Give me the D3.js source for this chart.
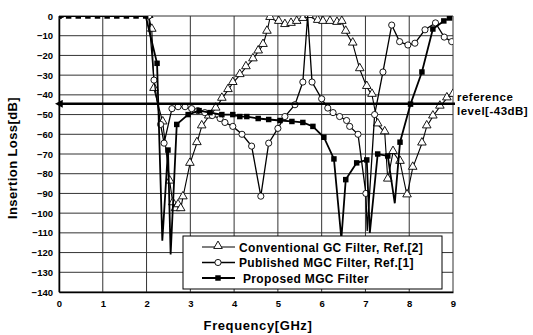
<!DOCTYPE html>
<html>
<head>
<meta charset="utf-8">
<script src="https://cdn.jsdelivr.net/npm/d3@7"></script>
<style>
    body { margin: 0; background: #fff; }
    text { font-family: "Liberation Sans", Arial, sans-serif; font-weight: bold; fill: #000; }
</style>
</head>
<body>
<div id="chart"></div>
<script>
// tick labels
const xTicks = [0, 1, 2, 3, 4, 5, 6, 7, 8, 9];
const yTicks = [0, -10, -20, -30, -40, -50, -60, -70, -80, -90, -100, -110, -120, -130, -140];

// Conventional GC Filter, Ref.[2]  (triangles)
const gcFreq = [0, 2.05, 2.12, 2.17, 2.37, 2.53, 2.6, 2.66, 2.72, 2.78, 2.83, 2.99, 3.15, 3.26, 3.42, 3.58, 3.72, 3.86, 3.97, 4.13, 4.27, 4.43, 4.55, 4.66, 4.75, 4.82,
    5.02, 5.16, 5.3, 5.43, 5.57, 5.71, 5.91, 6.03, 6.19, 6.35, 6.46, 6.55, 6.71, 6.87, 7.03, 7.15, 7.28, 7.44, 7.51, 7.63, 7.79, 7.95, 8.08, 8.29, 8.4, 8.54, 8.7, 8.86, 9.0];
const gcLoss = [0, 0, -7, -37, -54, -84, -95, -98, -96, -98, -92, -75, -64.5, -56, -51, -47, -42, -37.6, -34, -30, -26, -22, -18, -14.7, -8, -1,
    -3, -4.6, -4, -3, -1.5, 0, -2.5, -3, -3, -3.5, -3, -8, -14, -27, -36, -40, -55, -59, -83, -69, -74, -91, -77, -64.7, -56, -51, -46, -41.8, -40];

// Published MGC Filter, Ref.[1]  (circles)
const mgcFreq = [0, 2.05, 2.17, 2.32, 2.4, 2.58, 2.72, 2.88, 3.03, 3.17, 3.33, 3.5, 3.68, 3.79, 3.97, 4.18, 4.4, 4.61, 4.79, 5.0, 5.16, 5.39, 5.57, 5.78,
    6.0, 6.14, 6.26, 6.41, 6.57, 6.64, 6.83, 7.01, 7.21, 7.4, 7.6, 7.78, 7.97, 8.13, 8.36, 8.6, 8.8, 8.97];
const mgcLoss = [0, 0, -32.5, -55, -64.5, -47, -46, -46, -47, -48, -49, -50.5, -52, -54, -56, -60, -66, -91.4, -64.5, -57, -51, -45, -33.5, -33.5,
    -42, -46.7, -49, -51, -53, -56, -60, -90, -50, -28.4, -4.6, -13, -14.7, -13.8, -7, -3.5, -10.7, -13];
// unmarked notch / peak points of the published filter
const mgcNotchFreq = [5.68, 7.04];
const mgcNotchLoss = [0, -109];

// Proposed MGC Filter  (filled squares)
const newFreq = [0, 0.22, 0.44, 0.66, 0.88, 1.1, 1.32, 1.54, 1.76, 1.98, 2.24, 2.49, 2.69, 2.95, 3.2, 3.45, 3.72, 3.97, 4.13, 4.29, 4.55, 4.79, 5.05, 5.32, 5.57, 5.8,
    6.05, 6.28, 6.55, 6.8, 7.03, 7.28, 7.51, 7.79, 8.03, 8.29, 8.54, 8.79, 8.92];
const newLoss = [0, 0, 0, 0, 0, 0, 0, 0, 0, 0, -24, -68, -55, -50, -48, -49, -50, -50, -51, -51, -52, -52.5, -53, -53.5, -54, -56,
    -61.5, -72.5, -83, -74.5, -73, -70, -71, -64, -44.7, -28.4, -6.6, -2.5, -1];
// unmarked transmission zeros of the proposed filter
const newNotchFreq = [2.36, 2.55, 6.45, 7.1, 7.67];
const newNotchLoss = [-114, -121, -113, -110, -95];

const refLevel = -44.5;
const legendNames = ["Conventional GC Filter, Ref.[2]", "Published MGC Filter, Ref.[1]", "Proposed MGC Filter"];

const width = 533, height = 335;
const margin = { top: 16, right: 80, bottom: 43, left: 59 };

const svg = d3.select("#chart")
    .append("svg")
    .attr("width", width)
    .attr("height", height);

const x = d3.scaleLinear().domain([0, 9]).range([margin.left, width - margin.right]);
const y = d3.scaleLinear().domain([-140, 0]).range([height - margin.bottom, margin.top]);

svg.append("clipPath").attr("id", "plot")
    .append("rect")
    .attr("x", x(0)).attr("y", y(0))
    .attr("width", x(9) - x(0)).attr("height", y(-140) - y(0));

// grid
svg.append("g")
    .selectAll("line")
    .data(yTicks)
    .enter().append("line")
    .attr("x1", x(0)).attr("x2", x(9))
    .attr("y1", d => y(d)).attr("y2", d => y(d))
    .attr("stroke", "#333").attr("stroke-width", 1);

svg.append("g")
    .selectAll("line")
    .data(xTicks)
    .enter().append("line")
    .attr("x1", d => x(d)).attr("x2", d => x(d))
    .attr("y1", y(0)).attr("y2", y(-140))
    .attr("stroke", "#333").attr("stroke-width", 1);

// axes (labels only)
const yAxis = svg.append("g")
    .attr("transform", `translate(${x(0)},0)`)
    .call(d3.axisLeft(y).tickValues(yTicks).tickSize(0).tickPadding(6));
yAxis.select(".domain").attr("stroke", "#000").attr("stroke-width", 1.5);
yAxis.selectAll("text").style("font-size", "9.5px").style("font-family", "'Liberation Sans', Arial, sans-serif").style("font-weight", "bold");

const xAxis = svg.append("g")
    .attr("transform", `translate(0,${y(-140)})`)
    .call(d3.axisBottom(x).tickValues(xTicks).tickSize(0).tickPadding(8).tickFormat(d3.format("d")));
xAxis.select(".domain").attr("stroke", "#000").attr("stroke-width", 1.5);
xAxis.selectAll("text").style("font-size", "9.5px").style("font-family", "'Liberation Sans', Arial, sans-serif").style("font-weight", "bold");

svg.append("text")
    .attr("x", (x(0) + x(9)) / 2 + 2)
    .attr("y", 330)
    .attr("text-anchor", "middle")
    .style("font-size", "13px")
    .style("letter-spacing", "0.6px")
    .text("Frequency[GHz]");

svg.append("text")
    .attr("transform", `translate(17,${(y(0) + y(-140)) / 2 + 4}) rotate(-90)`)
    .attr("text-anchor", "middle")
    .style("font-size", "13px")
    .style("letter-spacing", "0.4px")
    .text("Insertion Loss[dB]");

// series
const line = d3.line().x(d => x(d[0])).y(d => y(d[1]));
const plot = svg.append("g").attr("clip-path", "url(#plot)");

function merge(f, l, nf, nl) {
    const pts = f.map((v, i) => [v, l[i]]);
    if (nf) nf.forEach((v, i) => pts.push([v, nl[i]]));
    return pts.sort((a, b) => a[0] - b[0]);
}

const tri = d3.symbol().type(d3.symbolTriangle).size(32);
const circ = d3.symbol().type(d3.symbolCircle).size(30);
const sq = d3.symbol().type(d3.symbolSquare).size(30);

// conventional
plot.append("path")
    .attr("d", line(merge(gcFreq, gcLoss)))
    .attr("fill", "none").attr("stroke", "#000").attr("stroke-width", 1.1);
plot.selectAll(".tri")
    .data(gcFreq.map((v, i) => [v, gcLoss[i]]))
    .enter().append("path")
    .attr("transform", d => `translate(${x(d[0])},${y(d[1]) - 1})`)
    .attr("d", tri)
    .attr("fill", "#fff").attr("stroke", "#000").attr("stroke-width", 0.9);

// published
plot.append("path")
    .attr("d", line(merge(mgcFreq, mgcLoss, mgcNotchFreq, mgcNotchLoss)))
    .attr("fill", "none").attr("stroke", "#000").attr("stroke-width", 1.3);
plot.selectAll(".circ")
    .data(mgcFreq.map((v, i) => [v, mgcLoss[i]]))
    .enter().append("path")
    .attr("transform", d => `translate(${x(d[0])},${y(d[1])})`)
    .attr("d", circ)
    .attr("fill", "#fff").attr("stroke", "#000").attr("stroke-width", 0.9);

// proposed
plot.append("path")
    .attr("d", line(merge(newFreq, newLoss, newNotchFreq, newNotchLoss)))
    .attr("fill", "none").attr("stroke", "#000").attr("stroke-width", 1.8);
plot.selectAll(".sq")
    .data(newFreq.map((v, i) => [v, newLoss[i]]))
    .enter().append("path")
    .attr("transform", d => `translate(${x(d[0])},${y(d[1])})`)
    .attr("d", sq)
    .attr("fill", "#000");

// reference level
svg.append("defs").append("marker")
    .attr("id", "arrow")
    .attr("viewBox", "0 0 10 10")
    .attr("refX", 1).attr("refY", 5)
    .attr("markerWidth", 3).attr("markerHeight", 3)
    .attr("orient", "auto-start-reverse")
    .append("path").attr("d", "M0,0L10,5L0,10z").attr("fill", "#000");

svg.append("line")
    .attr("x1", x(0) + 3).attr("x2", x(9) + 2)
    .attr("y1", y(refLevel)).attr("y2", y(refLevel))
    .attr("stroke", "#000").attr("stroke-width", 2.6)
    .attr("marker-start", "url(#arrow)");

svg.append("text").attr("x", x(9) + 4).attr("y", y(refLevel) - 3)
    .style("font-size", "11.5px").style("letter-spacing", "0.5px").text("reference");
svg.append("text").attr("x", x(9) + 4).attr("y", y(refLevel) + 11)
    .style("font-size", "11.5px").style("letter-spacing", "0.5px").text("level[-43dB]");

// legend
const lg = svg.append("g");
lg.append("rect")
    .attr("x", 183).attr("y", 236).attr("width", 259).attr("height", 53)
    .attr("fill", "#fff").attr("stroke", "#000").attr("stroke-width", 1);

const legendSym = [tri, circ, sq];
const legendW = [1.1, 1.3, 1.8];
legendNames.forEach((name, i) => {
    const ly = 247 + i * 15.5;
    lg.append("line").attr("x1", 202).attr("x2", 235).attr("y1", ly).attr("y2", ly)
        .attr("stroke", "#000").attr("stroke-width", legendW[i]);
    lg.append("path")
        .attr("transform", `translate(218,${i === 0 ? ly - 1 : ly})`)
        .attr("d", legendSym[i])
        .attr("fill", i === 2 ? "#000" : "#fff")
        .attr("stroke", "#000").attr("stroke-width", i === 2 ? 0 : 0.9);
    lg.append("text")
        .attr("x", i === 2 ? 243 : 239).attr("y", ly + 4.5)
        .style("font-size", "12px").style("letter-spacing", "0.35px")
        .text(name);
});
</script>
</body>
</html>
